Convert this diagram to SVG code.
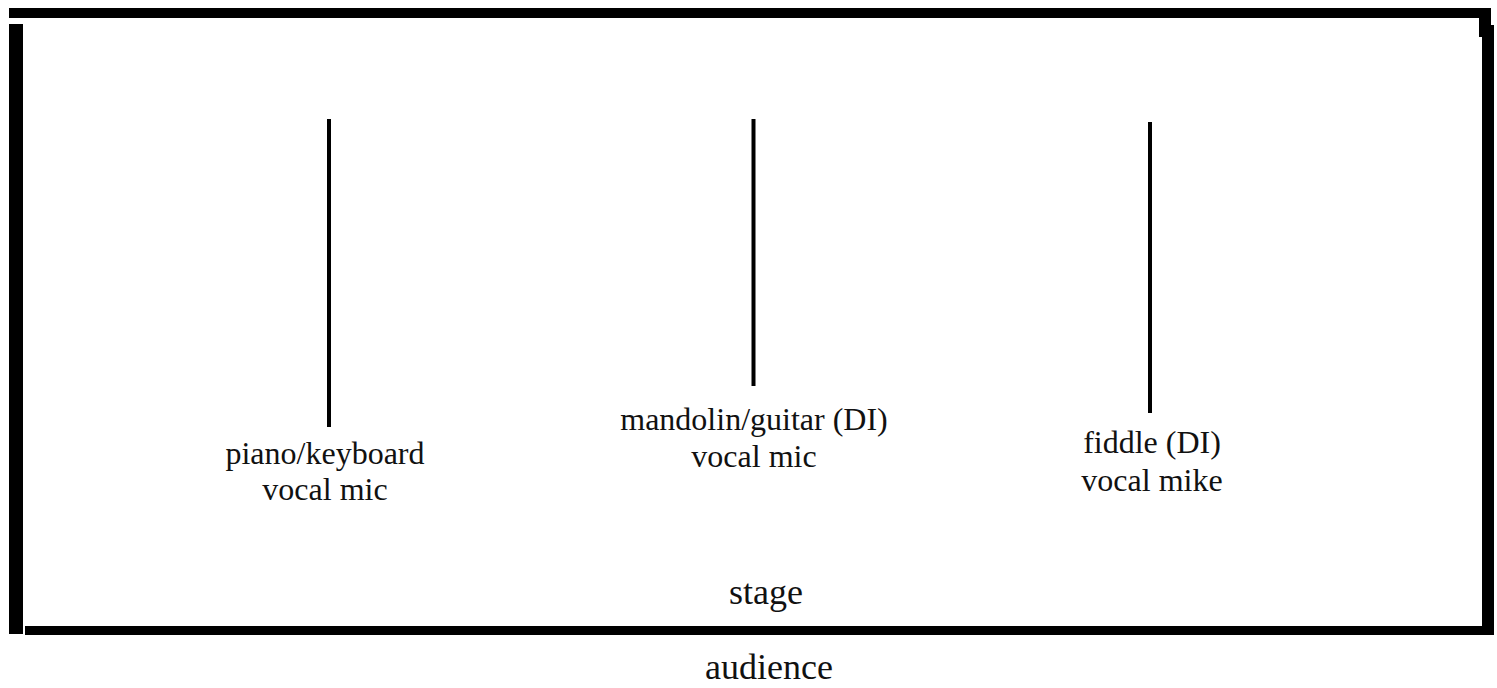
<svg xmlns="http://www.w3.org/2000/svg" width="1497" height="688" viewBox="0 0 1497 688">
<style>
.bar{fill:#000}
.stand{stroke:#000;stroke-width:4;fill:none}
text{font-family:"Liberation Serif","Times New Roman",serif;font-size:32px;fill:#111;text-anchor:middle}
.big{font-size:36px}
</style>
<rect width="1497" height="688" fill="#fff"/>
<g id="stage-frame">
<rect class="bar" x="9" y="8" width="1482" height="10"/>
<rect class="bar" x="1479" y="8" width="12" height="29"/>
<rect class="bar" x="9" y="24" width="14" height="610"/>
<rect class="bar" x="1482" y="25" width="12" height="609"/>
<rect class="bar" x="25" y="626" width="1469" height="9"/>
</g>
<g id="connectors">
<line class="stand" x1="329" y1="119" x2="329" y2="427"/>
<line class="stand" x1="753.5" y1="119" x2="753.5" y2="386"/>
<line class="stand" x1="1150" y1="122" x2="1150" y2="413"/>
</g>
<g id="piano">
<text x="325" y="464">piano/keyboard</text>
<text x="325" y="500">vocal mic</text>
</g>
<g id="mandolin">
<text x="754" y="430">mandolin/guitar (DI)</text>
<text x="754" y="467">vocal mic</text>
</g>
<g id="fiddle">
<text x="1152" y="453">fiddle (DI)</text>
<text x="1152" y="491">vocal mike</text>
</g>
<g id="stage">
<text class="big" x="766" y="604">stage</text>
</g>
<g id="audience">
<text class="big" x="769" y="679">audience</text>
</g>
</svg>
